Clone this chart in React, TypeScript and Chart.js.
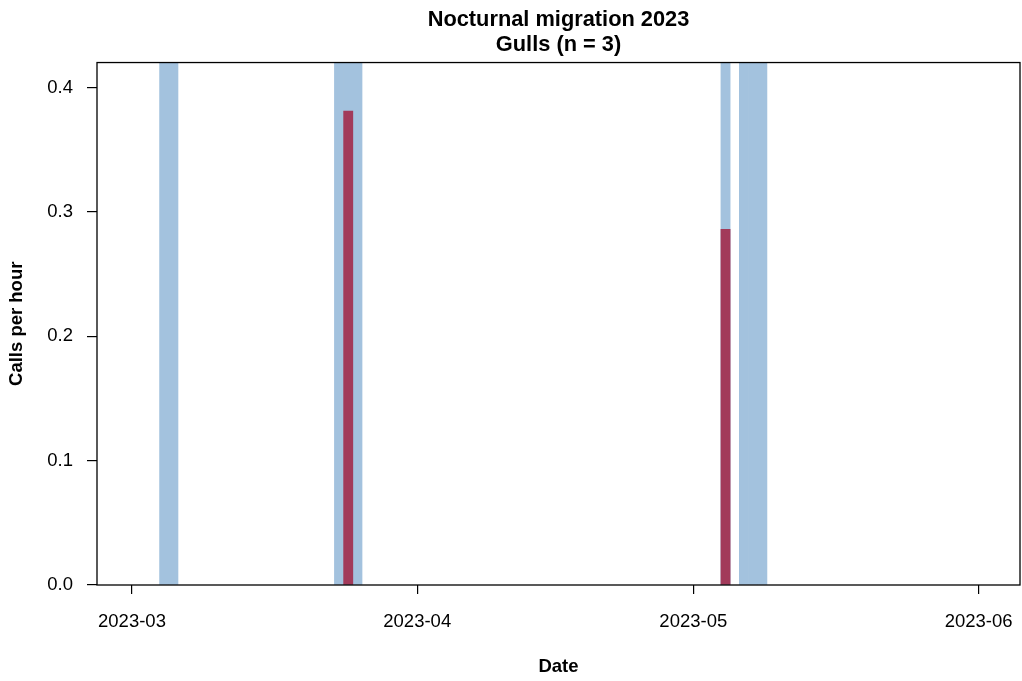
import React, { useEffect, useRef } from 'react';
import { Chart, registerables } from 'chart.js';

Chart.register(...registerables);

// ---- Data ----
const TITLE_LINES = ['Nocturnal migration 2023', 'Gulls (n = 3)'];
const X_TITLE = 'Date';
const Y_TITLE = 'Calls per hour';

const ORIGIN_DATE = '2023-03-01';
const MONTH_TICKS = ['2023-03', '2023-04', '2023-05', '2023-06'];
const Y_TICKS = [0, 0.1, 0.2, 0.3, 0.4];

// nights with calls and their rate (calls per hour)
const CALL_DATES = ['2023-03-24', '2023-05-04'];
const CALL_RATES = [0.381, 0.286];

// shaded nights (full height background bands)
const SHADED_DATES = [
  '2023-03-04', '2023-03-05',
  '2023-03-23', '2023-03-24', '2023-03-25',
  '2023-05-04',
  '2023-05-06', '2023-05-07', '2023-05-08',
];

// axis ranges (days relative to ORIGIN_DATE, and calls per hour)
const X_MIN_DAYS = -3.8;
const X_MAX_DAYS = 96.5;
const Y_MAX = 0.42;

const FONT = '"Liberation Sans", Arial, sans-serif';
const BLUE = '#a3c2de';
const RED = '#a23a5a';

function toUTC(s: string): number {
  const parts = s.split('-').map(Number);
  return Date.UTC(parts[0], parts[1] - 1, parts[2] || 1);
}
const ORIGIN_MS = toUTC(ORIGIN_DATE);
// day index since origin
function dayOf(s: string): number {
  return (toUTC(s) - ORIGIN_MS) / 86400000;
}
// bar for a date covers that whole day -> centre at midday
function dayCentre(s: string): number {
  return dayOf(s) + 0.5;
}

const boxPlugin = {
  id: 'plotBox',
  afterDraw(chart: any) {
    const { ctx, chartArea: a } = chart;
    ctx.save();
    ctx.strokeStyle = '#000';
    ctx.lineWidth = 1.3;
    ctx.strokeRect(a.left, a.top, a.right - a.left, a.bottom - a.top);
    ctx.restore();
  },
};

export default function App() {
  const ref = useRef<HTMLCanvasElement | null>(null);

  useEffect(() => {
    if (!ref.current) return;
    const chart = new Chart(ref.current, {
      type: 'bar',
      data: {
        datasets: [
          {
            label: 'Calls per hour',
            data: CALL_DATES.map((d, i) => ({ x: dayCentre(d), y: CALL_RATES[i] })),
            backgroundColor: RED,
            borderWidth: 0,
            grouped: false,
            barPercentage: 1,
            categoryPercentage: 1,
            order: 0,
          } as any,
          {
            label: 'Shaded',
            data: SHADED_DATES.map((d) => ({ x: dayCentre(d), y: Y_MAX })),
            backgroundColor: BLUE,
            borderWidth: 0,
            grouped: false,
            barPercentage: 1,
            categoryPercentage: 1,
            order: 1,
          } as any,
        ],
      },
      options: {
        responsive: false,
        animation: false,
        devicePixelRatio: 1,
        layout: { padding: { left: 0, right: 2, top: 0, bottom: 0 } },
        plugins: {
          legend: { display: false },
          tooltip: { enabled: false },
          title: {
            display: true,
            text: TITLE_LINES,
            color: '#000',
            fullSize: false,
            font: { family: FONT, size: 21.8, weight: 'bold', lineHeight: 1.15 },
            padding: { top: 7.4, bottom: 5 },
          },
        },
        scales: {
          x: {
            type: 'linear',
            min: X_MIN_DAYS,
            max: X_MAX_DAYS,
            offset: false,
            border: { display: false },
            grid: {
              offset: false,
              drawOnChartArea: false,
              drawTicks: true,
              tickLength: 9,
              color: '#000',
              lineWidth: 1.2,
            },
            ticks: {
              color: '#000',
              font: { family: FONT, size: 18.5 },
              padding: 17,
              maxRotation: 0,
              autoSkip: false,
              callback: (_v: any, i: number) => MONTH_TICKS[i],
            },
            afterBuildTicks: (scale: any) => {
              scale.ticks = MONTH_TICKS.map((m) => ({ value: dayOf(m) }));
            },
            afterFit: (scale: any) => {
              scale.height = 96;
              scale.paddingLeft = 0;
              scale.paddingRight = 0;
            },
            title: {
              display: true,
              text: X_TITLE,
              color: '#000',
              font: { family: FONT, size: 18.5, weight: 'bold' },
              padding: { top: 0, bottom: 2.5 },
            },
          },
          y: {
            type: 'linear',
            min: 0,
            max: Y_MAX,
            border: { display: false },
            grid: {
              drawOnChartArea: false,
              drawTicks: true,
              tickLength: 10,
              color: '#000',
              lineWidth: 1.2,
            },
            ticks: {
              color: '#000',
              font: { family: FONT, size: 18.5 },
              padding: 14,
              autoSkip: false,
              callback: (v: any) => Number(v).toFixed(1),
            },
            afterBuildTicks: (scale: any) => {
              scale.ticks = Y_TICKS.map((v) => ({ value: v }));
            },
            afterFit: (scale: any) => {
              scale.width = 97;
            },
            title: {
              display: true,
              text: Y_TITLE,
              color: '#000',
              font: { family: FONT, size: 18.5, weight: 'bold' },
              padding: { top: 5.8, bottom: 0 },
            },
          },
        },
      },
      plugins: [boxPlugin],
    } as any);
    return () => chart.destroy();
  }, []);

  return (
    <div style={{ position: 'fixed', left: 0, top: 0, width: 1022, height: 681, background: '#fff' }}>
      <canvas ref={ref} width={1022} height={681} style={{ display: 'block' }} />
    </div>
  );
}
